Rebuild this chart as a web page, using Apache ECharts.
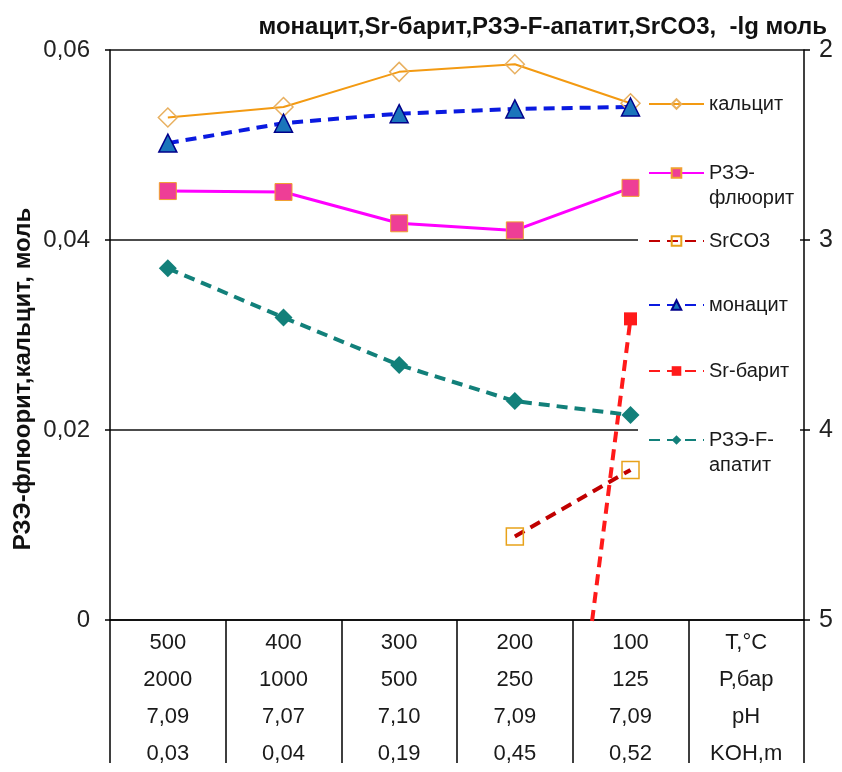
<!DOCTYPE html>
<html>
<head>
<meta charset="utf-8">
<script src="https://cdn.jsdelivr.net/npm/echarts@6/dist/echarts.min.js"></script>
<style>html,body{margin:0;padding:0;background:#fff;overflow:hidden;}#c{width:842px;height:772px;}</style>
</head>
<body>
<div id="c"></div>
<script>
// ---- data ----
const tempLabels = ['500', '400', '300', '200', '100', 'T,°C'];
const pressureLabels = ['2000', '1000', '500', '250', '125', 'P,бар'];
const phLabels = ['7,09', '7,07', '7,10', '7,09', '7,09', 'pH'];
const kohLabels = ['0,03', '0,04', '0,19', '0,45', '0,52', 'KOH,m'];

// left axis (моль)
const calcite = [0.0529, 0.0540, 0.0577, 0.0585, 0.0544];
const fluorite = [0.04515, 0.04505, 0.04176, 0.04101, 0.04549];
// right axis (-lg моль)
const srco3 = [null, null, null, 4.56, 4.21];
const monazite = [2.49, 2.385, 2.335, 2.31, 2.30];
const srBarite = [null, null, null, 8.2, 3.415];
const apatite = [3.149, 3.408, 3.658, 3.848, 3.921];

const leftTicks = [0, 0.02, 0.04, 0.06];
const rightTicks = [2, 3, 4, 5];

const titleRight = 'монацит,Sr-барит,РЗЭ-F-апатит,SrCO3,  -lg моль';
const titleLeft = 'РЗЭ-флюорит,кальцит, моль';

const FONT = '"Liberation Sans", Arial, sans-serif';

const seriesDefs = [
  {name: 'кальцит', label: 'кальцит', data: calcite, y: 0, symbol: 'diamond', size: 19,
   line: {color: '#F39A12', width: 2, type: 'solid'},
   item: {color: 'rgba(255,255,255,0)', borderColor: '#E8B060', borderWidth: 1.5}, legTop: 104, two: false},
  {name: 'РЗЭ-флюорит', label: '\nРЗЭ-\nфлюорит', data: fluorite, y: 0, symbol: 'rect', size: 17,
   line: {color: '#FF00FF', width: 3, type: 'solid'},
   item: {color: '#EE3E96', borderColor: '#F0A030', borderWidth: 1}, legTop: 173, two: true},
  {name: 'SrCO3', label: 'SrCO3', data: srco3, y: 1, symbol: 'rect', size: 17,
   line: {color: '#C00000', width: 4, type: [11, 7]},
   item: {color: 'rgba(255,255,255,0)', borderColor: '#E8A21A', borderWidth: 1.5}, legTop: 241, two: false},
  {name: 'монацит', label: 'монацит', data: monazite, y: 1, symbol: 'triangle', size: 18,
   line: {color: '#0A1AE0', width: 4, type: [11, 7]},
   item: {color: '#1B75BB', borderColor: '#00008B', borderWidth: 1.5}, legTop: 305, two: false},
  {name: 'Sr-барит', label: 'Sr-барит', data: srBarite, y: 1, symbol: 'rect', size: 13,
   line: {color: '#FF1A1A', width: 4, type: [11, 7]},
   item: {color: '#FF1A1A', borderColor: '#FF1A1A', borderWidth: 0}, legTop: 371, two: false},
  {name: 'РЗЭ-F-апатит', label: '\nРЗЭ-F-\nапатит', data: apatite, y: 1, symbol: 'diamond', size: 18,
   line: {color: '#12807A', width: 4, type: [11, 7]},
   item: {color: '#12807A', borderColor: '#12807A', borderWidth: 0}, legTop: 440, two: true}
];

const LH = 25;
const legends = seriesDefs.map(d => ({
  orient: 'vertical',
  left: 648,
  top: d.two ? d.legTop - 1.5 * LH : d.legTop - LH / 2,
  padding: 0,
  itemWidth: 55,
  itemHeight: 12,
  data: [d.name],
  selectedMode: false,
  formatter: () => d.label,
  textStyle: {fontFamily: FONT, fontSize: 20, color: '#1a1a1a', lineHeight: LH}
}));

const option = {
  backgroundColor: '#fff',
  animation: false,
  title: {
    text: titleRight, right: 10, top: 10,
    textStyle: {fontFamily: FONT, fontSize: 24, fontWeight: 'bold', color: '#111'}
  },
  grid: {left: 110, width: 694, top: 50, height: 579, containLabel: false},
  legend: legends,
  graphic: [
    {type: 'rect', z: 3, shape: {x: 638, y: 72, width: 162, height: 428}, style: {fill: '#fff'}},
    {type: 'text', x: 23, y: 379, rotation: Math.PI / 2, z: 5,
     style: {text: titleLeft, font: 'bold 24px ' + FONT, fill: '#111', align: 'center', verticalAlign: 'middle'}}
  ],
  xAxis: {
    type: 'category',
    data: tempLabels,
    boundaryGap: true,
    axisLine: {lineStyle: {color: '#000', width: 1.5}},
    axisTick: {show: true, length: 143, alignWithLabel: false, lineStyle: {color: '#000', width: 1.5}},
    axisLabel: {
      margin: 4, fontFamily: FONT, fontSize: 22, color: '#1a1a1a', lineHeight: 37,
      interval: 0,
      formatter: (v, i) => [tempLabels[i], pressureLabels[i], phLabels[i], kohLabels[i]].join('\n')
    },
    splitLine: {show: false}
  },
  yAxis: [
    {
      type: 'value', min: leftTicks[0], max: leftTicks[leftTicks.length - 1], interval: 0.02,
      position: 'left',
      axisLine: {show: true, lineStyle: {color: '#000', width: 1.5}},
      axisTick: {show: true, length: 5, lineStyle: {color: '#000', width: 1.5}},
      axisLabel: {fontFamily: FONT, fontSize: 24, color: '#222', margin: 20,
        formatter: v => v === 0 ? '0' : v.toFixed(2).replace('.', ',')},
      splitLine: {show: true, lineStyle: {color: '#111', width: 1.5}}
    },
    {
      type: 'value', min: rightTicks[0], max: rightTicks[rightTicks.length - 1], interval: 1,
      inverse: true, position: 'right',
      axisLine: {show: true, lineStyle: {color: '#000', width: 1.5}},
      axisTick: {show: true, length: 6, lineStyle: {color: '#000', width: 1.5}},
      axisLabel: {fontFamily: FONT, fontSize: 25, color: '#222', margin: 15},
      splitLine: {show: false}
    }
  ],
  series: seriesDefs.map(d => ({
    name: d.name,
    type: 'line',
    yAxisIndex: d.y,
    data: d.data,
    symbol: d.symbol,
    symbolSize: d.size,
    showAllSymbol: true,
    connectNulls: false,
    clip: true,
    lineStyle: d.line,
    itemStyle: d.item,
    emphasis: {disabled: true}
  }))
};

const chart = echarts.init(document.getElementById('c'), null, {renderer: 'canvas'});
chart.setOption(option);
</script>
</body>
</html>
